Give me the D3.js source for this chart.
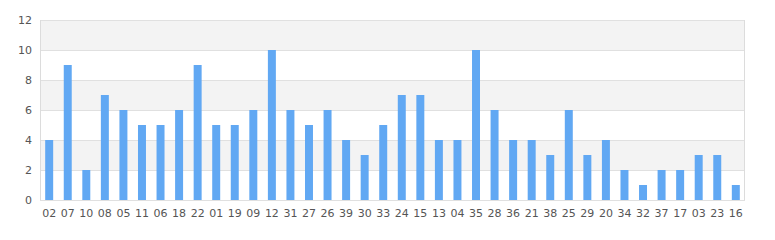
<!DOCTYPE html>
<html>
<head>
<meta charset="utf-8">
<script src="https://cdn.jsdelivr.net/npm/d3@7"></script>
<style>
	body { margin: 0; background: #fff; }
	svg { display: block; font-family: 'DejaVu Sans', sans-serif; }
</style>
</head>
<body>
<svg width="775" height="240"></svg>
<script>

const categories = [ '02', '07', '10', '08', '05', '11', '06', '18', '22', '01', '19', '09', '12',
	'31', '27', '26', '39', '30', '33', '24', '15', '13', '04', '35', '28', '36', '21', '38', '25',
	'29', '20', '34', '32', '37', '17', '03', '23', '16' ]

const values = [ 4, 9, 2, 7, 6, 5, 5, 6, 9, 5, 5, 6, 10, 6, 5, 6, 4, 3, 5, 7, 7, 4, 4, 10, 6, 4, 4, 3,
	6, 3, 4, 2, 1, 2, 2, 3, 3, 1 ]

const yTicks = [ 0, 2, 4, 6, 8, 10, 12 ]

const svg = d3.select( 'svg' ),
	margin = { top: 20, right: 30, bottom: 40, left: 40 },
	width = 775 - margin.left - margin.right,
	height = 240 - margin.top - margin.bottom

const g = svg.append( 'g' ).attr( 'transform', `translate(${margin.left},${margin.top})` )

const x = d3.scaleBand()
	.domain( categories )
	.range( [ 0, width ] )
	.paddingInner( 0.57 )
	.paddingOuter( 0.28 )

const y = d3.scaleLinear()
	.domain( [ 0, 12 ] )
	.range( [ height, 0 ] )

// alternating bands
g.selectAll( 'rect.band' )
	.data( d3.pairs( yTicks ).filter( ( d, i ) => i % 2 === 1 ) )
	.enter()
	.append( 'rect' )
	.attr( 'class', 'band' )
	.attr( 'x', 0 )
	.attr( 'width', width )
	.attr( 'y', d => y( d[ 1 ] ) )
	.attr( 'height', d => y( d[ 0 ] ) - y( d[ 1 ] ) )
	.attr( 'fill', '#f3f3f3' )

// grid lines
g.selectAll( 'line.grid' )
	.data( yTicks )
	.enter()
	.append( 'line' )
	.attr( 'x1', 0 )
	.attr( 'x2', width )
	.attr( 'y1', d => Math.round( y( d ) ) + 0.5 )
	.attr( 'y2', d => Math.round( y( d ) ) + 0.5 )
	.attr( 'stroke', '#e0e0e0' )

g.append( 'line' ).attr( 'x1', 0.5 ).attr( 'x2', 0.5 ).attr( 'y1', 0 ).attr( 'y2', height ).attr( 'stroke', '#dcdcdc' )
g.append( 'line' ).attr( 'x1', width - 0.5 ).attr( 'x2', width - 0.5 ).attr( 'y1', 0 ).attr( 'y2', height ).attr( 'stroke', '#dcdcdc' )

// bars
g.selectAll( 'rect.bar' )
	.data( values )
	.enter()
	.append( 'rect' )
	.attr( 'class', 'bar' )
	.attr( 'x', ( d, i ) => x( categories[ i ] ) )
	.attr( 'width', x.bandwidth() )
	.attr( 'y', d => y( d ) )
	.attr( 'height', d => y( 0 ) - y( d ) )
	.attr( 'fill', '#61a8f3' )

// axes
const yAxis = g.append( 'g' )
	.call( d3.axisLeft( y ).tickValues( yTicks ).tickSize( 0 ).tickPadding( 8 ) )
yAxis.select( '.domain' ).remove()
yAxis.selectAll( 'text' ).attr( 'fill', '#555' ).attr( 'font-size', 11 ).attr( 'font-family', 'DejaVu Sans, sans-serif' )

const xAxis = g.append( 'g' )
	.attr( 'transform', `translate(0,${height})` )
	.call( d3.axisBottom( x ).tickSize( 0 ).tickPadding( 9 ) )
xAxis.select( '.domain' ).remove()
xAxis.selectAll( 'text' ).attr( 'fill', '#555' ).attr( 'font-size', 11 ).attr( 'font-family', 'DejaVu Sans, sans-serif' )

</script>
</body>
</html>
